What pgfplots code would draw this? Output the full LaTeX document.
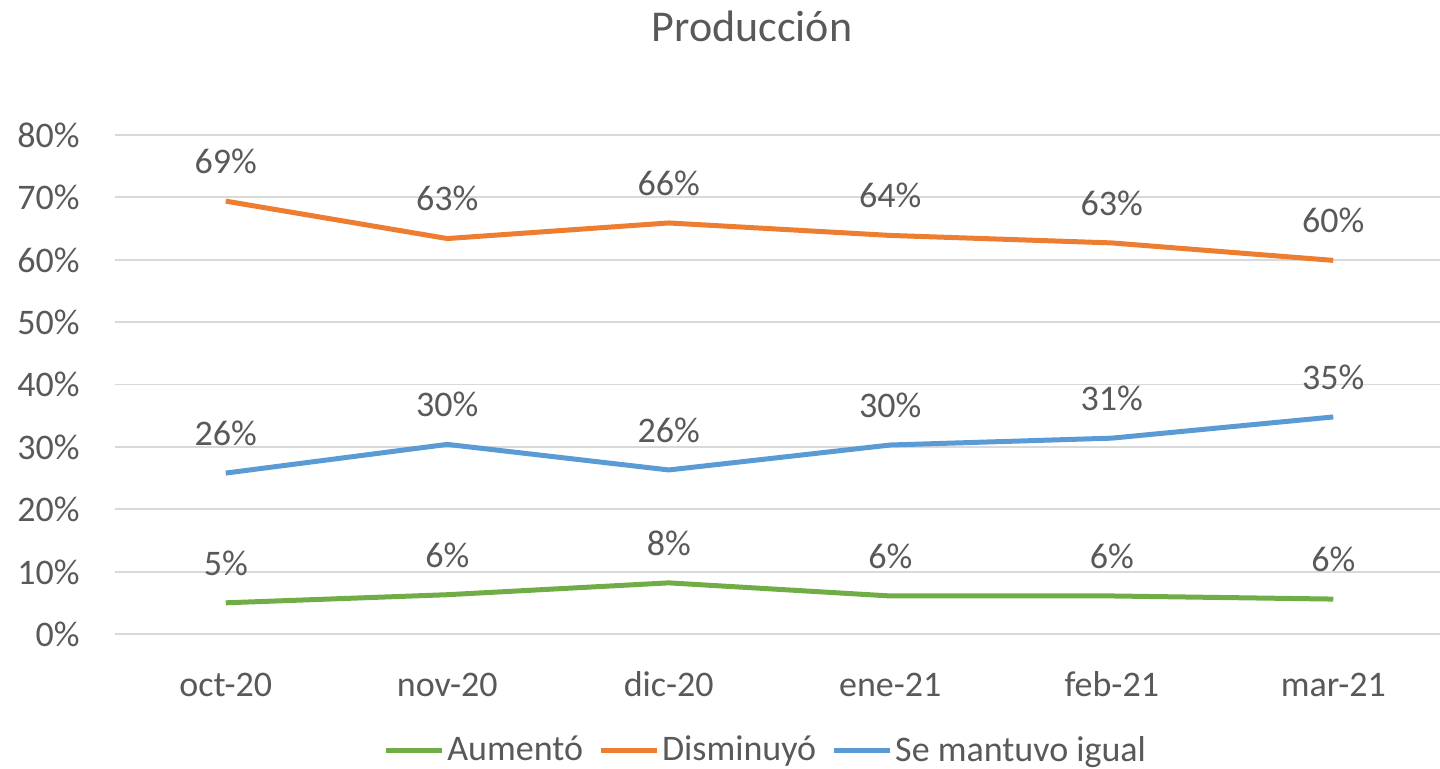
\documentclass[border=0pt]{standalone}
\usepackage{pgfplots}
\pgfplotsset{compat=1.18}
\usepackage{fontspec}
\setmainfont{Carlito}
\definecolor{cgreen}{HTML}{70AD47}
\definecolor{corange}{HTML}{ED7D31}
\definecolor{cblue}{HTML}{5B9BD5}
\definecolor{cgrid}{HTML}{D9D9D9}
\definecolor{ctext}{HTML}{595959}
\begin{document}
\begin{tikzpicture}
\path[use as bounding box] (0,0) rectangle (720pt,384pt);
\begin{axis}[
  at={(57.5pt,67pt)}, anchor=south west,
  scale only axis, width=664.5pt, height=249.5pt,
  xmin=-0.5, xmax=5.5, ymin=0, ymax=80,
  xtick={0,1,2,3,4,5},
  xticklabels={oct-20,nov-20,dic-20,ene-21,feb-21,mar-21},
  ytick={0,10,...,80},
  yticklabel={\pgfmathprintnumber{\tick}\%},
  /pgf/number format/assume math mode=true,
  axis line style={draw=none},
  major tick length=0pt,
  ymajorgrids, grid style={cgrid, line width=0.9pt},
  clip=false,
  xticklabel style={font=\fontsize{18}{22}\selectfont, text=ctext, anchor=base, inner sep=0pt, yshift=-31pt},
  yticklabel style={font=\fontsize{18}{22}\selectfont, text=ctext, anchor=base east, inner sep=0pt, xshift=-17.5pt, yshift=-6.2pt},
  every node near coord/.append style={font=\fontsize{18}{22}\selectfont, text=ctext, anchor=base, inner sep=0pt, yshift=13.8pt},
  nodes near coords={\pgfmathprintnumber[fixed,precision=0]{\pgfplotspointmeta}\%},
  legend columns=3,
  legend style={draw=none, fill=none, at={(0.49,-0.2325)}, anchor=center,
    font=\fontsize{18}{22}\selectfont, text=ctext,
    nodes={inner sep=1.5pt},
    /tikz/every even column/.append style={column sep=6pt}},
  legend image code/.code={\draw[#1, line width=2.5pt] (0pt,0pt) -- (28pt,0pt);},
]
\addplot[cgreen, line width=2.5pt] coordinates {(0,5.0) (1,6.3) (2,8.2) (3,6.1) (4,6.1) (5,5.6)};
\addlegendentry{Aumentó}
\addplot[corange, line width=2.5pt] coordinates {(0,69.4) (1,63.4) (2,65.9) (3,63.9) (4,62.7) (5,59.9)};
\addlegendentry{Disminuyó}
\addplot[cblue, line width=2.5pt] coordinates {(0,25.8) (1,30.4) (2,26.3) (3,30.3) (4,31.4) (5,34.8)};
\addlegendentry{Se mantuvo igual}
\end{axis}
\node[font=\fontsize{22}{26}\selectfont, text=ctext, anchor=base, inner sep=0pt] at (376pt,363pt) {Producción};
\end{tikzpicture}
\end{document}
